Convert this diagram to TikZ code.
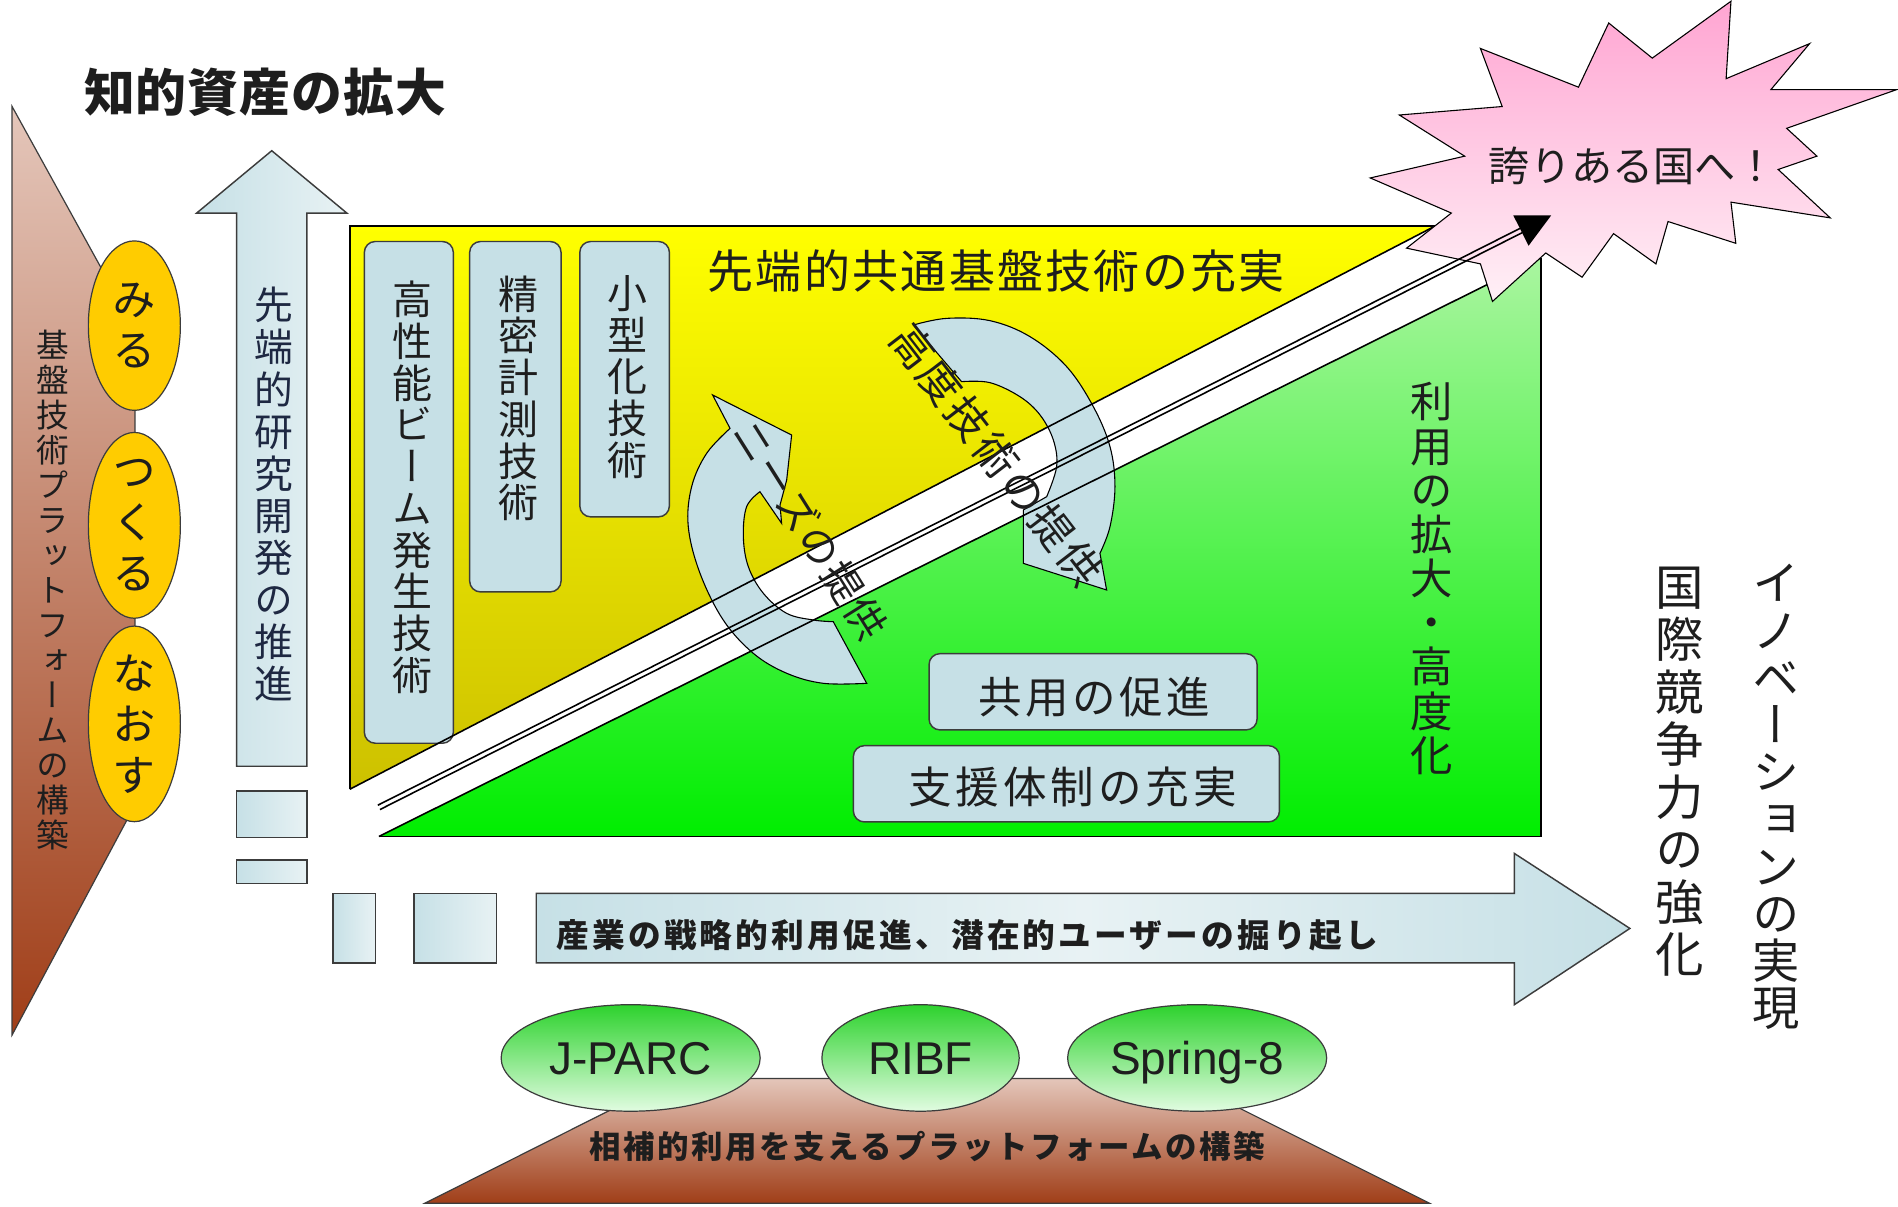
\documentclass[tikz,border=0pt]{standalone}
\usepackage{fontspec}
\setmainfont{Noto Sans CJK JP}
\newfontfamily\vjp[RawFeature={+vert}]{Noto Sans CJK JP}
\newfontfamily\arialf{Liberation Sans}
\newcommand\fsz[2]{\fontsize{#1}{#2}\selectfont}
\usetikzlibrary{shapes.geometric}
\definecolor{ylwtop}{RGB}{255,255,0}
\definecolor{ylwbot}{RGB}{205,193,0}
\definecolor{grntop}{RGB}{170,245,160}
\definecolor{grnbot}{RGB}{0,238,0}
\definecolor{lblue}{RGB}{198,224,230}
\definecolor{lbluel}{RGB}{232,242,244}
\definecolor{brntop}{RGB}{228,198,186}
\definecolor{brnbot}{RGB}{160,62,24}
\definecolor{gold}{RGB}{255,204,0}
\definecolor{pinktop}{RGB}{255,165,210}
\definecolor{pinkbot}{RGB}{255,240,246}
\definecolor{elltop}{RGB}{45,210,45}
\definecolor{ellbot}{RGB}{225,252,225}
\definecolor{bordergray}{RGB}{60,60,60}
\definecolor{navytext}{RGB}{30,40,66}
\definecolor{darktext}{RGB}{30,30,30}
\tikzset{
  edge/.style={draw=black, line width=1.3},
  lbshape/.style={draw=bordergray, line width=1.2, left color=lblue, right color=lbluel},
  techbox/.style={draw=bordergray, line width=1.2, fill=lblue, rounded corners=9},
  carrow/.style={draw=black, line width=0.9, fill=lblue},
  vt/.style={align=center, inner sep=0, text=darktext},
  lbl/.style={inner sep=0, text=darktext},
  dl/.style={line width=1.3, black},
  goldell/.style={ellipse, draw=bordergray, line width=1, fill=gold, minimum width=76, minimum height=140, inner sep=0, align=center, font=\vjp\fsz{36}{42}, text=darktext},
  greenell/.style={ellipse, draw=bordergray, line width=1, top color=elltop, bottom color=ellbot, minimum height=88, inner sep=0, font=\arialf\fsz{38}{40}, text=darktext, text height=27.2, text depth=0},
  brnshape/.style={draw=bordergray, line width=1, top color=brntop, bottom color=brnbot}
}
\begin{document}
\begin{tikzpicture}[x=1pt, y=-1pt]
\fill[white] (0,0) rectangle (1568,997);
\useasboundingbox (0,0) rectangle (1568,997);

% title
\node[lbl, font=\bfseries\fsz{42}{46}\addfontfeature{LetterSpace=2}] (title) at (219,76) {知的資産の拡大};

% left platform
\path[brnshape] (10,88) -- (111.5,272) -- (111.5,665) -- (10,855) -- cycle;
\node[vt, font=\vjp\fsz{27}{28.9}] (kiban) at (44,487.5) {基\\盤\\技\\術\\プ\\ラ\\ッ\\ト\\フ\\ォ\\ー\\ム\\の\\構\\築};
\node[goldell] (miru) at (111,269) {み\\る};
\node[goldell] (tsukuru) at (111,434) {つ\\く\\る};
\node[goldell] (naosu) at (111,598) {な\\お\\す};

% up arrow
\path[lbshape] (195.5,633) -- (195.5,176) -- (162.5,176) -- (224.5,124.5) -- (286.5,176) -- (253.5,176) -- (253.5,633) -- cycle;
\node[vt, text=navytext, font=\vjp\fsz{32}{34.8}] (sentan) at (226,408.5) {先\\端\\的\\研\\究\\開\\発\\の\\推\\進};
\path[lbshape] (195.5,653.5) rectangle (253.5,692);
\path[lbshape] (195.5,710.5) rectangle (253.5,730);

% central regions
\coordinate (Y1) at (289,186.5);
\coordinate (Y2) at (1186,186.5);
\coordinate (Y3) at (289,652);
\coordinate (G1) at (313,691);
\coordinate (G2) at (1273,691);
\coordinate (G3) at (1273,213);
\path[top color=ylwtop, bottom color=ylwbot] (Y1) -- (Y2) -- (Y3) -- cycle;
\draw[edge] (Y3) -- (Y1) -- (Y2);
\path[top color=grntop, bottom color=grnbot] (G1) -- (G2) -- (G3) -- cycle;
\draw[edge] (G1) -- (G2) -- (G3);

% technology boxes
\draw[techbox] (301,199.5) rectangle (374.5,614);
\draw[techbox] (388,199.5) rectangle (463.5,489);
\draw[techbox] (479,199.5) rectangle (553,427);
\node[vt, font=\vjp\fsz{33}{34.5}] (beam) at (341,402.5) {高\\性\\能\\ビ\\ー\\ム\\発\\生\\技\\術};
\node[vt, font=\vjp\fsz{33}{34.5}] (keisoku) at (428,329) {精\\密\\計\\測\\技\\術};
\node[vt, font=\vjp\fsz{33}{34.5}] (kogata) at (518,311.5) {小\\型\\化\\技\\術};
\node[lbl, font=\fsz{38}{40}\addfontfeature{LetterSpace=5}] (kyotsu) at (823,224) {先端的共通基盤技術の充実};
\node[vt, font=\vjp\fsz{35}{36.5}] (riyou) at (1183,478) {利\\用\\の\\拡\\大\\・\\高\\度\\化};

% support boxes
\draw[techbox] (767.5,540) rectangle (1038.5,603);
\draw[techbox] (705,616) rectangle (1057,679);
\node[lbl, font=\fsz{36}{38}\addfontfeature{LetterSpace=8}] (kyoyo) at (904,576) {共用の促進};
\node[lbl, font=\fsz{36}{38}\addfontfeature{LetterSpace=9}] (shien) at (886,650) {支援体制の充実};

% curved arrows
\path[carrow] (588.7,326.3) -- (654.0,359.4) -- (649.9,396.5) -- (644.4,417.2) -- (645.7,432.3)
  -- plot[smooth, tension=0.6] coordinates {(627.8,406.2) (616.8,418.6) (614.1,443.3) (618.2,468.1) (630.6,490.1) (649.9,506.7) (671.9,512.2) (688.4,513.6)}
  -- plot[smooth, tension=0.6] coordinates {(716.0,564.5) (680.2,564.5) (649.9,556.2) (622.3,539.7) (597.5,512.2) (578.3,473.6) (568.6,435.1) (571.4,402.0) (583.8,374.5) (603.1,353.9)}
  -- cycle;
\path[carrow] (754.5,268.5)
  -- plot[smooth, tension=0.6] coordinates {(754.5,268.5) (782.1,263.0) (817.8,264.9) (850.9,278.1) (881.2,302.9) (903.2,335.9) (917.0,369.0) (921.1,402.0) (917.0,435.1) (908.7,457.1)}
  -- (914.2,487.4) -- (845.4,465.4) -- (845.4,421.3)
  -- plot[smooth, tension=0.6] coordinates {(864.7,410.3) (872.9,385.5) (870.2,363.5) (859.2,342.8) (842.6,327.7) (817.8,316.1) (794.4,315.3)}
  -- cycle;

% diagonal edges
\draw[edge] (Y3) -- (Y2);
\draw[edge] (G1) -- (G3);

% star
\path[draw=black, line width=0.9, top color=pinktop, bottom color=pinkbot]
  (1430,1) -- (1426,65) -- (1495,36) -- (1463,74) -- (1567,74) -- (1476,106) -- (1501,129) -- (1469,140)
  -- (1512,180) -- (1430,167) -- (1434,201) -- (1378,183) -- (1368,218) -- (1333,193) -- (1307,229)
  -- (1277,209) -- (1233,249) -- (1223,218) -- (1162,205) -- (1199,176) -- (1132,147) -- (1210,129)
  -- (1156,95) -- (1241,88) -- (1223,40) -- (1304,72) -- (1329,19) -- (1365,48) -- cycle;
\node[lbl, font=\fsz{34}{36}] (hokori) at (1349,137) {誇りある国へ！};

% double-line arrow
\coordinate (dls) at (313,667);
\coordinate (dle) at (1256.5,190.5);
\coordinate (dlt) at (1281.5,177.9);
\coordinate (dlb1) at (1262.8,203);
\coordinate (dlb2) at (1250.2,178);
\draw[dl] ([shift={(0.9,1.78)}]dls) -- ([shift={(0.9,1.78)}]dle);
\draw[dl] ([shift={(-0.9,-1.78)}]dls) -- ([shift={(-0.9,-1.78)}]dle);
\fill[black] (dlt) -- (dlb1) -- (dlb2) -- cycle;

% curved arrow labels
\node[lbl, rotate=-57.8, font=\fsz{33}{35}\addfontfeature{LetterSpace=6}] (needs) at (669,437.5) {ニーズの提供};
\node[lbl, rotate=-52.4, font=\fsz{35}{37}\addfontfeature{LetterSpace=7.7}] (kodo) at (823,376) {高度技術の提供};

% horizontal arrow
\path[draw=bordergray, line width=1.2, left color=lblue, right color=lblue, middle color=lbluel]
  (443,738) -- (1251,738) -- (1251,705) -- (1346.5,767) -- (1251,830) -- (1251,795.5) -- (443,795.5) -- cycle;
\node[lbl, font=\bfseries\fsz{27}{30}\addfontfeature{LetterSpace=9.8}] (sangyo) at (799,773) {産業の戦略的利用促進、潜在的ユーザーの掘り起し};
\path[lbshape] (275,738) rectangle (310,795.5);
\path[lbshape] (342,738) rectangle (410,795.5);

% right side texts
\node[vt, font=\vjp\fsz{40}{43.4}] (kokusai) at (1387.5,637.5) {国\\際\\競\\争\\力\\の\\強\\化};
\node[vt, font=\vjp\fsz{39}{39}] (innov) at (1467.5,658.5) {イ\\ノ\\ベ\\ー\\シ\\ョ\\ン\\の\\実\\現};

% bottom platform
\path[brnshape] (556,891) -- (975,891) -- (1181,994) -- (351,994) -- cycle;
\node[lbl, font=\bfseries\fsz{26}{28}\addfontfeature{LetterSpace=8}] (sohoteki) at (766,947) {相補的利用を支えるプラットフォームの構築};
\node[greenell, minimum width=214] (jparc) at (521,874) {J-PARC};
\node[greenell, minimum width=163] (ribf) at (760.5,874) {RIBF};
\node[greenell, minimum width=214] (spring) at (989,874) {Spring-8};
\end{tikzpicture}
\end{document}
